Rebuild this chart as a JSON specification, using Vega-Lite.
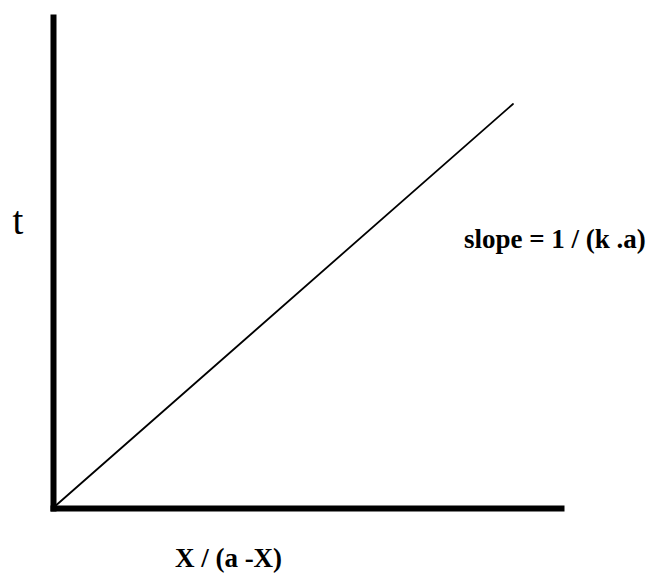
{
  "$schema": "https://vega.github.io/schema/vega-lite/v6.json",
  "width": 508,
  "height": 491,
  "autosize": {"type": "none"},
  "padding": {"left": 53, "top": 17, "right": 93, "bottom": 68},
  "background": "white",
  "config": {"view": {"stroke": null}},
  "datasets": {
    "line": [
      {"x": 0, "t": 0},
      {"x": 9.055, "t": 8.228}
    ],
    "label": [
      {"x": 9.88, "t": 5.295, "text": "slope = 1 / (k .a)"}
    ]
  },
  "layer": [
    {
      "data": {"name": "line"},
      "mark": {"type": "line", "color": "black", "strokeWidth": 1.8, "clip": false, "strokeCap": "round"},
      "encoding": {
        "x": {
          "field": "x", "type": "quantitative",
          "scale": {"domain": [0, 10], "nice": false, "zero": false},
          "axis": {
            "title": "X / (a -X)",
            "grid": false, "ticks": false, "labels": false,
            "domainColor": "black", "domainWidth": 6, "domainCap": "square",
            "titleFont": "Liberation Serif", "titleFontWeight": "bold", "titleFontSize": 27,
            "titleColor": "black",
            "titleX": 175, "titleY": 58, "titleAlign": "center", "titleBaseline": "alphabetic"
          }
        },
        "y": {
          "field": "t", "type": "quantitative",
          "scale": {"domain": [0, 10], "nice": false, "zero": false},
          "axis": {
            "title": "t",
            "grid": false, "ticks": false, "labels": false,
            "domainColor": "black", "domainWidth": 6, "domainCap": "square",
            "titleFont": "Liberation Serif", "titleFontWeight": "normal", "titleFontSize": 39,
            "titleColor": "black", "titleAngle": 0,
            "titleX": -35.5, "titleY": 216, "titleAlign": "center", "titleBaseline": "alphabetic"
          }
        }
      }
    },
    {
      "data": {"name": "label"},
      "mark": {
        "type": "text", "font": "Liberation Serif", "fontWeight": "bold", "fontSize": 27,
        "color": "black", "align": "center", "baseline": "alphabetic", "clip": false
      },
      "encoding": {
        "x": {"field": "x", "type": "quantitative"},
        "y": {"field": "t", "type": "quantitative"},
        "text": {"field": "text"}
      }
    }
  ]
}
